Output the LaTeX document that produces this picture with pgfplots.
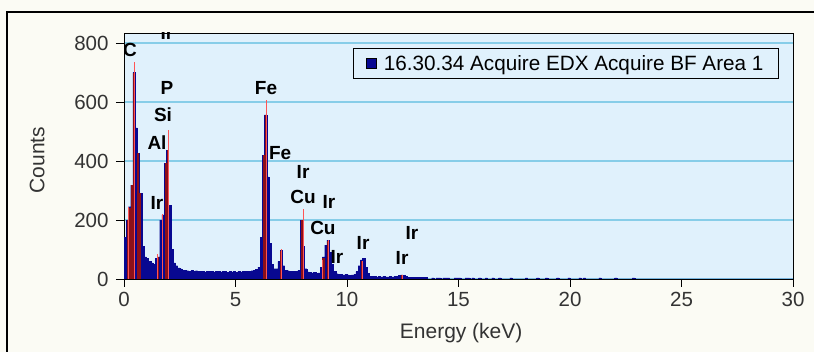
\documentclass[border=0pt]{standalone}
\usepackage{fontspec}
\setmainfont{Liberation Sans}
\usepackage{pgfplots}
\pgfplotsset{compat=1.18}
\definecolor{cream}{RGB}{251,251,244}
\definecolor{plotbg}{RGB}{224,241,252}
\definecolor{gridblue}{RGB}{135,205,232}
\definecolor{specblue}{RGB}{8,8,145}
\definecolor{darkred}{RGB}{140,15,25}
\definecolor{pinkred}{RGB}{255,85,85}
\begin{document}
\begin{tikzpicture}
\path[use as bounding box, fill=cream] (0pt,0pt) rectangle (814pt,352pt);
\draw[line width=1.2pt] (7pt,0pt) -- (7pt,340pt) -- (814pt,340pt);
\begin{axis}[
  at={(124pt,73pt)}, anchor=south west,
  scale only axis, width=669pt, height=246pt,
  xmin=0, xmax=30, ymin=0, ymax=834,
  xtick={0,5,...,30}, ytick={0,200,...,800},
  xtick pos=bottom, ytick pos=left,
  tick align=outside, major tick length=8pt,
  ymajorgrids, grid style={gridblue, line width=1.1pt},
  axis background/.style={fill=plotbg},
  axis line style={black, line width=0.9pt},
  tick style={black, line width=0.9pt},
  /pgf/number format/assume math mode=true,
  tick label style={font=\fontsize{20.5}{20.5}\selectfont, text=black!80},
  xticklabel style={yshift=-2pt},
  yticklabel style={xshift=-4pt},
  xlabel={Energy (keV)}, ylabel={Counts},
  xlabel style={at={(axis description cs:0.504,-0.22)}, anchor=center, font=\fontsize{21}{21}\selectfont, text=black!80},
  ylabel style={at={(axis description cs:-0.13,0.484)}, anchor=center, font=\fontsize{21}{21}\selectfont, text=black!80},
  legend style={at={(axis description cs:0.979,0.939)}, anchor=north east, draw=black, fill=plotbg, font=\fontsize{20.7}{20.7}\selectfont, inner xsep=13pt, inner ysep=5pt, line width=0.9pt, column sep=5pt},
  legend cell align=left,
  clip=true,
]
\addplot[const plot, fill=specblue, draw=specblue, line width=0.3pt,
  legend image code/.code={\draw[fill=specblue, draw=black, line width=0.6pt] (0pt,-5pt) rectangle (10pt,5pt);}] coordinates {
(0.0,142) (0.1,200) (0.2,245) (0.3,318) (0.4,700) (0.5,512) (0.6,427) (0.7,290) (0.8,110) (0.9,75)
(1.0,70) (1.1,60) (1.2,55) (1.3,50) (1.4,70) (1.5,75) (1.6,200) (1.7,217) (1.8,393) (1.9,437)
(2.0,250) (2.1,100) (2.2,55) (2.3,45) (2.4,38) (2.5,34) (2.6,30)
(2.7,30) (2.8,28) (2.9,27) (3.0,29) (3.1,26) (3.2,28) (3.3,25) (3.4,27) (3.5,26) (3.6,24)
(3.7,27) (3.8,25) (3.9,26) (4.0,24) (4.1,25) (4.2,27) (4.3,24) (4.4,26) (4.5,25) (4.6,23)
(4.7,25) (4.8,24) (4.9,26) (5.0,23) (5.1,25) (5.2,24) (5.3,26) (5.4,25) (5.5,27) (5.6,26)
(5.7,28) (5.8,30) (5.9,32) (6.0,40)
(6.1,142) (6.2,420) (6.3,556) (6.4,346) (6.5,120) (6.6,50) (6.7,35) (6.8,35) (6.9,60) (7.0,98)
(7.1,45) (7.2,30) (7.3,28) (7.4,27) (7.5,26) (7.6,25) (7.7,26) (7.8,30) (7.9,200) (8.0,110)
(8.1,35) (8.2,24) (8.3,22) (8.4,21) (8.5,22) (8.6,20) (8.7,21) (8.8,40) (8.9,75) (9.0,115)
(9.1,132) (9.2,90) (9.3,50) (9.4,25) (9.5,18) (9.6,16) (9.7,15) (9.8,14) (9.9,15) (10.0,14)
(10.1,13) (10.2,14) (10.3,15) (10.4,25) (10.5,45) (10.6,65) (10.7,70) (10.8,40) (10.9,20) (11.0,10)
(11.1,8) (11.2,8) (11.3,7) (11.4,8) (11.5,7) (11.6,8) (11.7,7) (11.8,7) (11.9,8) (12.0,7)
(12.1,8) (12.2,10) (12.3,12) (12.4,14) (12.5,12) (12.6,8) (12.7,6) (12.8,6) (12.9,5) (13.0,6)
(13.1,5) (13.2,6) (13.3,5) (13.4,5) (13.5,5) (13.6,0)
(13.8,4) (13.9,0) (14.0,4) (14.1,4) (14.2,0) (14.3,4) (14.4,4) (14.5,4) (14.6,0) (14.8,4)
(14.9,4) (15.0,4) (15.1,0) (15.3,4) (15.4,4) (15.5,0) (15.6,4) (15.7,0) (15.9,4) (16.0,0)
(16.2,4) (16.3,0) (16.5,4) (16.6,0) (16.8,4) (16.9,0) (17.3,4) (17.4,0) (18.0,4) (18.1,0)
(18.5,4) (18.6,0) (18.9,4) (19.0,0) (19.4,4) (19.5,0) (19.9,4) (20.0,0) (20.4,4) (20.5,0)
(20.6,4) (20.7,0) (21.3,4) (21.4,0) (22.0,4) (22.1,0) (22.8,4) (22.9,0) (30,0)
} \closedcycle;
\addlegendentry{16.30.34 Acquire EDX Acquire BF Area 1}
\addplot[ycomb, draw=darkred, line width=2.2pt, forget plot] coordinates {
(0.17,200) (0.27,240) (0.37,318) (0.45,700) (0.63,427) (0.73,290)
(1.53,75) (1.87,393) (1.97,437)
(6.27,420) (6.35,556) (7.03,95) (7.98,200) (9.13,128) (8.95,70) (10.68,60) (12.45,12)
};
\addplot[ycomb, draw=pinkred, line width=1.1pt, forget plot] coordinates {
(0.22,245) (0.47,735) (1.49,85) (1.74,220) (2.01,505)
(6.37,607) (7.05,100) (8.03,237) (8.9,65) (9.17,132) (10.7,62) (12.5,14)
};
\begin{scope}[every node/.style={font=\fontsize{19}{19}\selectfont\bfseries, inner sep=0pt, anchor=center}]
\node at (axis cs:0.27,776) {C};
\node at (axis cs:1.93,647) {P};
\node at (axis cs:1.75,556) {Si};
\node at (axis cs:1.48,464) {Al};
\node at (axis cs:1.48,258) {Ir};
\node at (axis cs:6.37,647) {Fe};
\node at (axis cs:7.00,427) {Fe};
\node at (axis cs:8.03,363) {Ir};
\node at (axis cs:8.03,278) {Cu};
\node at (axis cs:9.19,261) {Ir};
\node at (axis cs:8.92,173) {Cu};
\node at (axis cs:9.55,75) {Ir};
\node at (axis cs:10.72,122) {Ir};
\node at (axis cs:12.91,156) {Ir};
\node at (axis cs:12.47,71) {Ir};
\clip (rel axis cs:0,0) rectangle (rel axis cs:1,1);
\node[anchor=base] at (axis cs:1.93,812) {Ir};
\end{scope}
\end{axis}
\end{tikzpicture}
\end{document}
